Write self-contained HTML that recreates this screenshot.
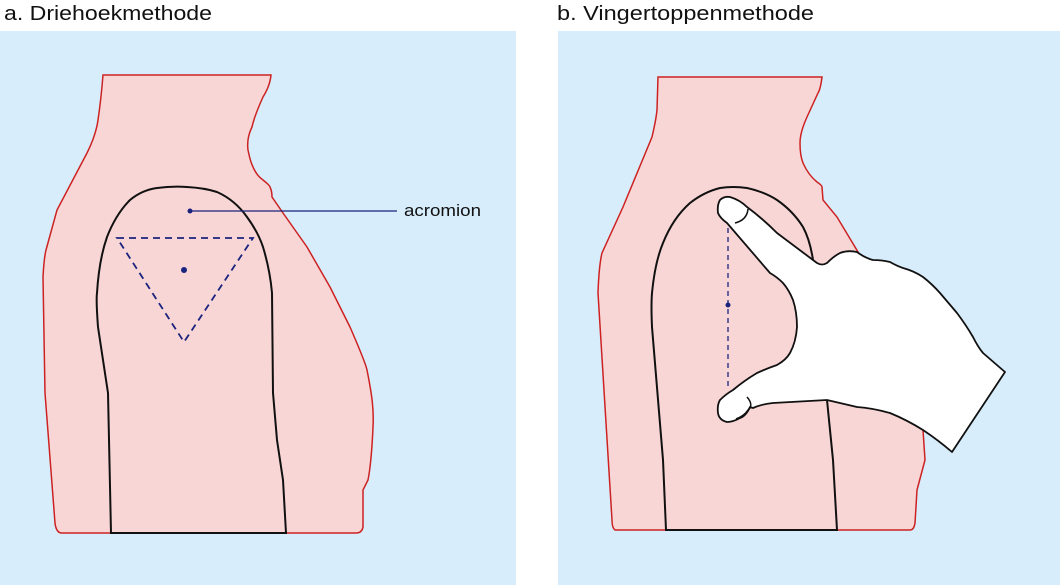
<!DOCTYPE html>
<html><head><meta charset="utf-8"><style>
html,body{margin:0;padding:0;background:#fff;width:1060px;height:585px;overflow:hidden}
svg{display:block}
</style></head><body>
<svg width="1060" height="585" viewBox="0 0 1060 585" xmlns="http://www.w3.org/2000/svg">
<rect x="0" y="31" width="516" height="554" fill="#d8edfb"/>
<rect x="558" y="31" width="502" height="554" fill="#d8edfb"/>
<text x="4" y="20" font-family="Liberation Sans, sans-serif" font-size="20" fill="#111" textLength="208" lengthAdjust="spacingAndGlyphs">a. Driehoekmethode</text>
<text x="557" y="20" font-family="Liberation Sans, sans-serif" font-size="20" fill="#111" textLength="257" lengthAdjust="spacingAndGlyphs">b. Vingertoppenmethode</text>

<path d="M103,75 L271,75 C270,85 266,92 263,97 C258,108 254,118 252,127 C248,135 247,142 248,150 C250,160 252,165 253,167 C256,174 260,178 263,180 C268,184 270,186 270,187 C272,191 272,194 272,197 L283,213 L307,247 L330,287 L350,327 C360,350 366,365 367,370 C372,395 374,410 373,427 C372,450 370,470 368,480 L363,490 L363,527 Q362,533 356,533 L61,533 Q56,532 55,523 L45,393 L43,277 Q44,258 46,250 L57,210 L87,153 Q96,135 98,120 Q101,100 103,75 Z" fill="#f9d6d6" stroke="#cc2222" stroke-width="1.5"/>
<path d="M111,533 L108,393 L98,327 Q96,300 97,293 Q99,260 107,237 Q116,214 130,200 Q142,190 157,188 Q172,186 187,187 Q205,188 217,192 Q235,200 247,217 Q258,232 263,247 Q270,270 272,293 L273,393 L277,440 L283,480 L286,533 Z" fill="#f9d6d6" stroke="#111" stroke-width="2"/>
<path d="M117,238 L253,238 L184,342 Z" fill="none" stroke="#1a237e" stroke-width="1.8" stroke-dasharray="7,5"/>
<circle cx="184" cy="270" r="3" fill="#1a237e"/>
<circle cx="190" cy="211" r="2.5" fill="#1a237e"/>
<line x1="190" y1="211" x2="397" y2="211" stroke="#1a237e" stroke-width="1.3"/>
<text x="404" y="216" font-family="Liberation Sans, sans-serif" font-size="17" fill="#111" textLength="77" lengthAdjust="spacingAndGlyphs">acromion</text>

<path d="M658,77 L822,77 C821,85 820,90 818,93 L807,117 C802,128 800,136 800,143 C800,153 801,158 803,163 C807,172 812,178 817,182 C820,184 822,186 822,187 L823,200 L837,217 L858,252 L923,430 L925,460 L917,490 L915,523 Q914,530 910,530 L615,530 Q612,528 612,520 L598,293 Q599,265 602,253 L623,207 L652,137 Q656,120 657,110 Z" fill="#f9d6d6" stroke="#cc2222" stroke-width="1.5"/>
<path d="M666,530 L663,460 L652,327 Q651,305 652,293 Q655,262 663,243 Q673,218 690,203 Q704,192 720,188 Q733,186 747,188 Q765,192 777,200 Q793,211 803,227 Q810,240 813,260 L827,400 L833,460 L837,530 Z" fill="#f9d6d6" stroke="#111" stroke-width="2"/>
<line x1="728" y1="228" x2="728" y2="390" stroke="#1a237e" stroke-width="1.3" stroke-dasharray="5,4"/>
<circle cx="728" cy="305" r="2.5" fill="#1a237e"/>
<path d="M730,197 Q740,200 747,207 Q762,218 777,233 L817,263 Q822,266 827,263 Q834,256 840,253 Q848,250 857,252 Q865,258 873,260 Q882,260 890,262 Q897,266 903,268 Q914,271 923,277 Q932,284 940,293 L957,313 Q966,325 973,337 Q978,347 983,353 L1005,372 L952,452 Q938,440 923,430 Q907,420 890,413 Q872,408 857,407 L827,400 L773,403 Q762,404 753,408 L750,407 Q746,416 740,418 Q733,422 727,422 Q719,420 718,413 Q717,405 720,400 Q726,394 733,390 Q745,380 757,373 Q768,368 777,365 Q786,360 790,353 Q796,342 797,327 Q797,312 793,300 Q789,290 783,283 Q777,277 770,273 L727,223 Q720,218 718,213 Q717,205 720,200 Q724,196 730,197 Z" fill="#fff" stroke="#111" stroke-width="1.8" stroke-linejoin="round"/>
<path d="M748,209 Q747,220 735,223" fill="none" stroke="#111" stroke-width="1.5"/>
<path d="M747,397 Q754,405 748,410 Q744,416 736,419" fill="none" stroke="#111" stroke-width="1.5"/>
</svg>
</body></html>
